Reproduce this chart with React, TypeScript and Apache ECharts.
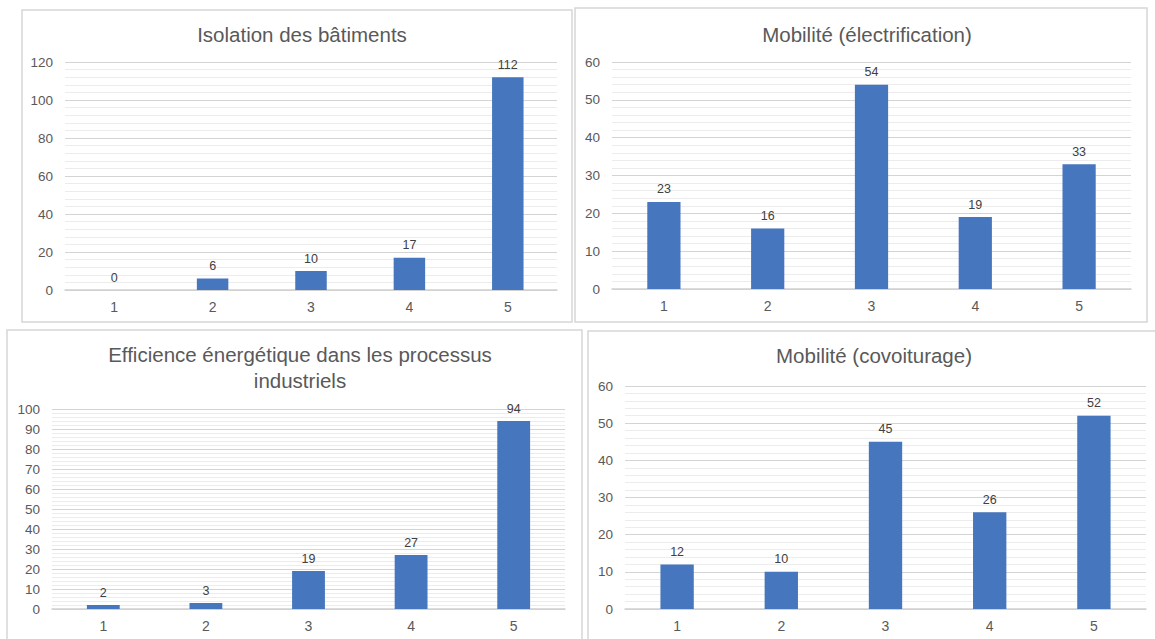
import React, { useEffect, useRef } from "react";
import * as echarts from "echarts";

const categories = ["1", "2", "3", "4", "5"];
const titles = [
  "Isolation des bâtiments",
  "Mobilité (électrification)",
  "Efficience énergétique dans les processus\nindustriels",
  "Mobilité (covoiturage)",
];
const isolationValues = [0, 6, 10, 17, 112];
const electrificationValues = [23, 16, 54, 19, 33];
const efficienceValues = [2, 3, 19, 27, 94];
const covoiturageValues = [12, 10, 45, 26, 52];
const yMax = [120, 60, 100, 60];
const yInterval = [20, 10, 10, 10];

const FONT = "'Liberation Sans', Arial, sans-serif";
const BAR = "#4676bd";

export default function App() {
  const ref = useRef<HTMLDivElement>(null);
  useEffect(() => {
    if (!ref.current) return;
    const chart = echarts.init(ref.current, null, { renderer: "svg" });
    const grids = [
      { left: 65, top: 62, width: 492, height: 228 },
      { left: 612, top: 62, width: 519, height: 227 },
      { left: 52, top: 409, width: 513, height: 200 },
      { left: 625, top: 386, width: 521, height: 223 },
    ];
    const data = [isolationValues, electrificationValues, efficienceValues, covoiturageValues];
    const titlePos = [
      { left: 297, top: 16 },
      { left: 862, top: 16 },
      { left: 295, top: 336 },
      { left: 869, top: 337 },
    ];
    const yFont = [13.5, 13.5, 13.5, 13.5];
    chart.setOption({
      animation: false,
      backgroundColor: "#ffffff",
      title: titles.map((t, i) => ({
        text: t,
        left: titlePos[i].left,
        top: titlePos[i].top,
        textAlign: "center",
        textStyle: {
          fontFamily: FONT,
          fontSize: 20.5,
          fontWeight: "normal",
          color: "#595959",
          lineHeight: 26,
        },
      })),
      graphic: [
        { type: "rect", shape: { x: 22, y: 10, width: 550, height: 312 }, style: { fill: "none", stroke: "#d6d6d6", lineWidth: 1.5 }, z: -1 },
        { type: "rect", shape: { x: 575, y: 8, width: 572, height: 314 }, style: { fill: "none", stroke: "#d6d6d6", lineWidth: 1.5 }, z: -1 },
        { type: "rect", shape: { x: 7, y: 330, width: 575, height: 320 }, style: { fill: "none", stroke: "#d6d6d6", lineWidth: 1.5 }, z: -1 },
        { type: "rect", shape: { x: 588, y: 331, width: 580, height: 320 }, style: { fill: "none", stroke: "#d6d6d6", lineWidth: 1.5 }, z: -1 },
      ],
      grid: grids.map((g) => ({ ...g, containLabel: false })),
      xAxis: grids.map((_, i) => ({
        type: "category",
        gridIndex: i,
        data: categories,
        axisLine: { show: true, lineStyle: { color: "#d0d0d0", width: 1.5 } },
        axisTick: { show: false },
        axisLabel: { fontFamily: FONT, fontSize: 14, color: "#595959", margin: 10 },
      })),
      yAxis: grids.map((_, i) => ({
        type: "value",
        gridIndex: i,
        min: 0,
        max: yMax[i],
        interval: yInterval[i],
        axisLine: { show: false },
        axisTick: { show: false },
        axisLabel: { fontFamily: FONT, fontSize: yFont[i], color: "#595959", margin: 12 },
        splitLine: { show: true, lineStyle: { color: "#d4d4d4", width: 1.2 } },
        minorTick: { show: false, splitNumber: 5 },
        minorSplitLine: { show: true, lineStyle: { color: "#ececec", width: 1 } },
      })),
      series: data.map((d, i) => ({
        type: "bar",
        xAxisIndex: i,
        yAxisIndex: i,
        data: d,
        barWidth: "32%",
        itemStyle: { color: BAR },
        label: {
          show: true,
          position: "top",
          distance: 6,
          fontFamily: FONT,
          fontSize: 12.5,
          color: "#404040",
        },
      })),
    });
    return () => chart.dispose();
  }, []);
  return (
    <div
      ref={ref}
      style={{ position: "fixed", left: 0, top: 0, width: 1155, height: 639 }}
    />
  );
}
